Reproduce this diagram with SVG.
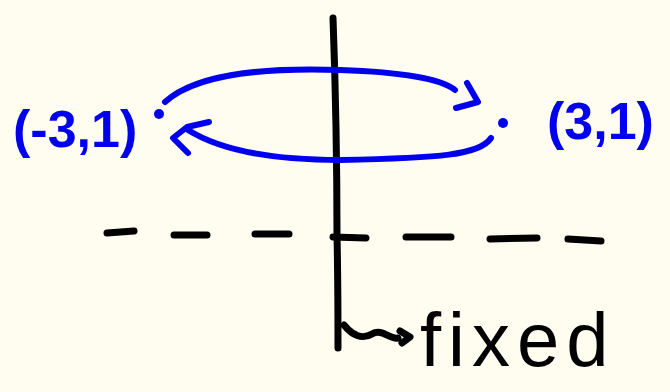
<svg xmlns="http://www.w3.org/2000/svg" width="670" height="392" viewBox="0 0 670 392">
<style>
.ink{fill:none;stroke:#000;stroke-width:7;stroke-linecap:round;stroke-linejoin:round}
.blue{fill:none;stroke:#0000ee;stroke-width:6;stroke-linecap:round;stroke-linejoin:round}
.lbl{font-family:"Liberation Sans",Arial,sans-serif;font-weight:bold;font-size:52px;fill:#0000ee}
.fx{font-family:"Liberation Sans",Arial,sans-serif;font-size:76px;fill:#000;letter-spacing:7px}
</style>
<rect width="670" height="392" fill="#fffdf0"/>
<g id="axes">
<path class="ink" d="M333,18 C336,100 337,200 337,235 C338,280 338,320 338,348"/>
<path class="ink" d="M107,233 L134,231 M174,235 L207,235 M255,234 L289,234 M333,237 L366,238 M406,237 L451,237 M490,239 L537,238 M568,239 L601,241"/>
</g>
<g id="pt-left">
<circle cx="159" cy="114" r="5" fill="#0000ee"/>
<text class="lbl" x="13" y="147">(-3,1)</text>
</g>
<g id="pt-right">
<circle cx="503" cy="123" r="5" fill="#0000ee"/>
<text class="lbl" x="547" y="139">(3,1)</text>
</g>
<g id="connectors">
<path class="blue" d="M165,102 C200,70 280,68 340,70 C400,72 440,78 455,90"/>
<path class="blue" d="M467,83 L478,102 L456,108"/>
<path class="blue" d="M491,138 C480,155 440,158 340,160 C270,160 220,150 188,130"/>
<path class="blue" d="M209,122 L187,127 L173,138 L188,153"/>
<path class="ink" d="M344,325 C352,335 362,340 372,334 C382,328 390,340 398,338"/>
<path class="ink" d="M400,331 L410,337 L402,343"/>
</g>
<g id="fixed-label">
<text class="fx" x="420" y="366">fixed</text>
</g>
</svg>
